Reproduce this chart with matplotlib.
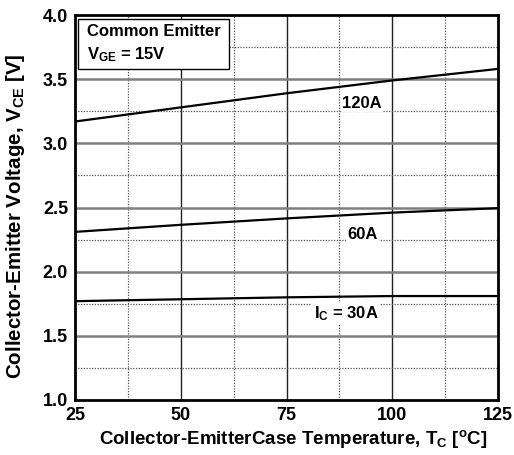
import matplotlib
matplotlib.use("Agg")
import matplotlib.pyplot as plt
from matplotlib.patches import Rectangle

plt.rcParams['font.family'] = ['Liberation Sans', 'DejaVu Sans']
plt.rcParams['font.weight'] = 'bold'
plt.rcParams['mathtext.fontset'] = 'custom'
plt.rcParams['mathtext.rm'] = 'Liberation Sans:bold'
plt.rcParams['mathtext.bf'] = 'Liberation Sans:bold'
plt.rcParams['mathtext.default'] = 'rm'

temps = [25, 50, 75, 100, 125]
v_120A = [3.17, 3.28, 3.39, 3.49, 3.58]
v_60A = [2.31, 2.365, 2.415, 2.46, 2.495]
v_30A = [1.77, 1.785, 1.80, 1.81, 1.81]

x_ticks = [25, 50, 75, 100, 125]
y_ticks = [1.0, 1.5, 2.0, 2.5, 3.0, 3.5, 4.0]

fig = plt.figure(figsize=(5.14, 4.55), dpi=100)
ax = fig.add_axes([75/514, 1 - 400/455, (498-75)/514, (400-15)/455])

ax.set_xlim(25, 125)
ax.set_ylim(1.0, 4.0)
ax.set_xticks(x_ticks)
ax.set_yticks(y_ticks)
ax.set_yticklabels([f"{v:.1f}" for v in y_ticks])

for x in [50, 75, 100]:
    ax.axvline(x, color='#222222', lw=1.0, zorder=1)
for x in [37.5, 62.5, 87.5, 112.5]:
    ax.axvline(x, color='#555555', lw=0.9, ls=(0, (1, 1.2)), zorder=1)
for y in [1.5, 2.0, 2.5, 3.0, 3.5]:
    ax.axhline(y, color='#808080', lw=1.8, zorder=1)
for y in [1.25, 1.75, 2.25, 2.75, 3.25, 3.75]:
    ax.axhline(y, color='#555555', lw=0.9, ls=(0, (1, 1.2)), zorder=1)

ax.tick_params(which='both', length=0, labelsize=13)
ax.tick_params(axis='y', pad=5)
ax.tick_params(axis='x', pad=5)
for lbl in ax.get_xticklabels() + ax.get_yticklabels():
    lbl.set_fontweight('bold')

for v in [v_120A, v_60A, v_30A]:
    ax.plot(temps, v, color='black', lw=1.6, zorder=3)

for s in ax.spines.values():
    s.set_linewidth(2)
    s.set_zorder(5)

lab_kw = dict(fontsize=12, fontweight='bold', ha='center', va='center', zorder=4,
              bbox=dict(facecolor='white', edgecolor='none', pad=1))
ax.text(92.8, 3.31, "120A", **lab_kw)
ax.text(92.9, 2.29, "60A", **lab_kw)
ax.text(89.1, 1.67, "I$_{C}$ = 30A", **lab_kw)

ax.add_patch(Rectangle((0.008, 0.860), 0.356, 0.130, transform=ax.transAxes,
                       facecolor='white', edgecolor='black', lw=1.0, zorder=6))
ax.text((87-75)/423, (400-32)/385, "Common Emitter", transform=ax.transAxes,
        fontsize=12, fontweight='bold', ha='left', va='center', zorder=7)
ax.text((87-75)/423, (400-55)/385, "V$_{GE}$ = 15V", transform=ax.transAxes,
        fontsize=12, fontweight='bold', ha='left', va='center', zorder=7)

ax.set_xlabel("Collector-EmitterCase Temperature, T$_{C}$ [$^{o}$C]", fontsize=13.5,
              fontweight='bold')
ax.xaxis.set_label_coords((293-75)/423, -(428-400)/385)
ax.set_ylabel("Collector-Emitter Voltage, V$_{CE}$ [V]", fontsize=14.8,
              fontweight='bold')
ax.yaxis.set_label_coords(-(75-27)/423, (400-216)/385)

fig.savefig("out.png", dpi=100)
